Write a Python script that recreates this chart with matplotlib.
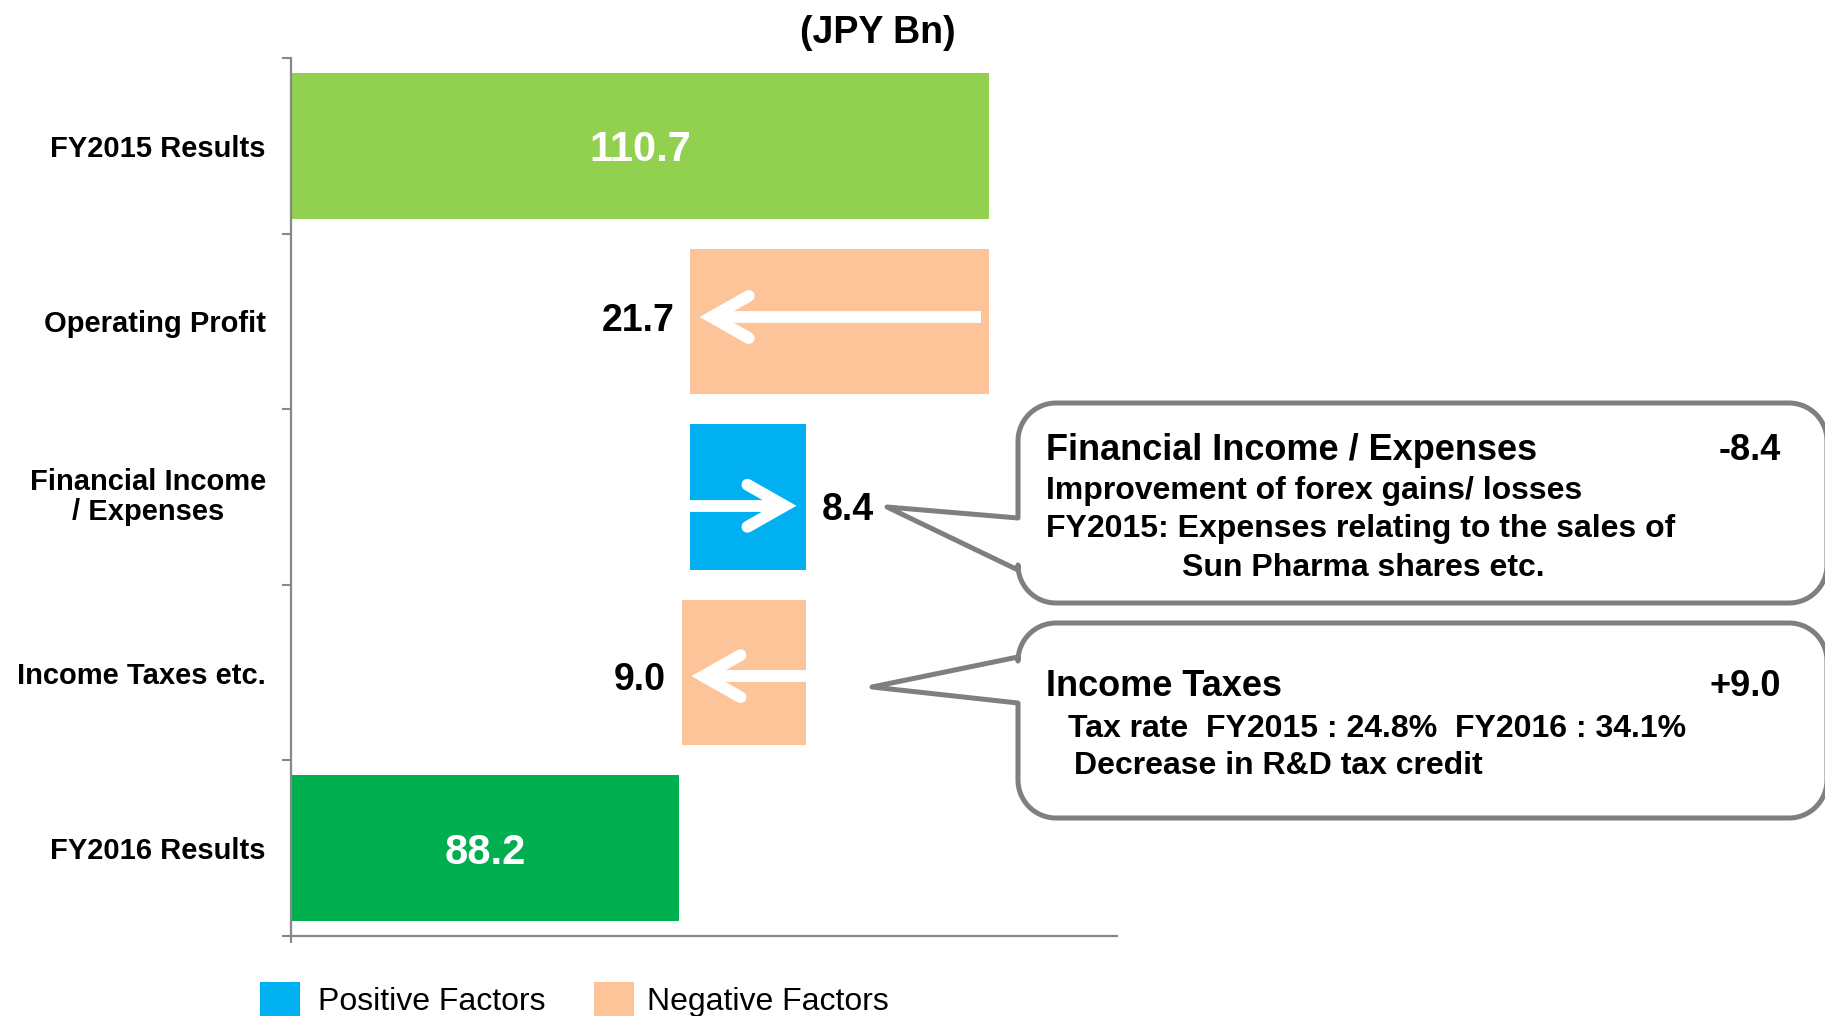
import numpy as np
import matplotlib
matplotlib.use("Agg")
import matplotlib.pyplot as plt
from matplotlib.patches import Rectangle, Polygon

# ---------------- data ----------------
categories = ["FY2015 Results", "Operating Profit", "Financial Income\n/ Expenses",
              "Income Taxes etc.", "FY2016 Results"]
start_value = 110.7
changes = [-21.7, 8.4, -9.0]
end_value = 88.2
x_min, x_max = 60, 120
unit_label = "(JPY Bn)"
legend_labels = ["Positive Factors", "Negative Factors"]

note1_title = "Financial Income / Expenses"
note1_value = "-8.4"
note1_lines = ["Improvement of forex gains/ losses",
               "FY2015: Expenses relating to the sales of",
               "Sun Pharma shares etc."]
note2_title = "Income Taxes"
note2_value = "+9.0"
note2_lines = ["Tax rate  FY2015 : 24.8%  FY2016 : 34.1%",
               "Decrease in R&D tax credit"]

# ---------------- style ----------------
C_START = "#92D050"
C_END = "#00B050"
C_POS = "#00B0F0"
C_NEG = "#FDC399"
C_AXIS = "#888888"
C_BOX = "#7F7F7F"

plt.rcParams['font.family'] = ['Liberation Sans', 'DejaVu Sans']

W, H = 1825, 1016
fig = plt.figure(figsize=(W / 100, H / 100), dpi=100)
fig.patch.set_facecolor("white")


def fx(px):
    return px / W


def fy(py):
    return 1 - py / H


ax = fig.add_axes([fx(291), fy(936), fx(1117) - fx(291), fy(58) - fy(936)])
ax.set_xlim(x_min, x_max)
ax.set_ylim(4.5, -0.5)

BAR_H = 0.83
row_offsets = [-0.025, 0.05, 0.02]   # vertical nudge of arrows/labels

# start bar
ax.barh(0, start_value, height=BAR_H, color=C_START, zorder=2)
ax.text((x_min + start_value) / 2, 0, f"{start_value:.1f}", ha="center",
        va="center_baseline", color="white", fontsize=30, fontweight="bold", zorder=4)

level = start_value
for i, ch in enumerate(changes, start=1):
    new = level + ch
    left = min(level, new)
    right = max(level, new)
    color = C_POS if ch > 0 else C_NEG
    ax.barh(i, abs(ch), left=left, height=BAR_H, color=color, zorder=2)
    yc = i + row_offsets[i - 1]
    dx_arm = 2.7
    dy_arm = 0.12
    inset_tip = 1.55
    if ch < 0:
        far = right - (0.55 if abs(ch) > 15 else 0.0)
        vertex = left + inset_tip
        arm_x = vertex + dx_arm
    else:
        far = left
        vertex = right - inset_tip
        arm_x = vertex - dx_arm
    ax.plot([far, vertex], [yc, yc], color="white", lw=8.5,
            solid_capstyle="butt", zorder=3)
    ax.plot([arm_x, vertex, arm_x], [yc - dy_arm, yc, yc + dy_arm], color="white",
            lw=8.5, solid_joinstyle="miter", solid_capstyle="round", zorder=3)
    if ch < 0:
        ax.annotate(f"{abs(ch):.1f}", xy=(left, yc), xytext=(-11.5, 0),
                    textcoords="offset points", ha="right", va="center_baseline",
                    fontsize=27, fontweight="bold", color="black", zorder=4)
    else:
        ax.annotate(f"{abs(ch):.1f}", xy=(right, yc), xytext=(11.5, 0),
                    textcoords="offset points", ha="left", va="center_baseline",
                    fontsize=27, fontweight="bold", color="black", zorder=4)
    level = new

# end bar
ax.barh(4, end_value, height=BAR_H, color=C_END, zorder=2)
ax.text((x_min + end_value) / 2, 4, f"{end_value:.1f}", ha="center",
        va="center_baseline", color="white", fontsize=30, fontweight="bold", zorder=4)

# axes styling
for s in ["top", "right"]:
    ax.spines[s].set_visible(False)
for s in ["left", "bottom"]:
    ax.spines[s].set_color(C_AXIS)
    ax.spines[s].set_linewidth(1.6)
ax.set_yticks(range(len(categories)))
ax.set_yticklabels(categories, fontsize=21, fontweight="bold")
for lbl in ax.get_yticklabels():
    lbl.set_multialignment("center")
    lbl.set_linespacing(1.12)
    if "\n" in lbl.get_text():
        lbl.set_va("center")
ax.set_yticks(np.arange(-0.5, len(categories)), minor=True)
ax.tick_params(axis="y", which="major", length=0, pad=18)
ax.tick_params(axis="y", which="minor", length=6.5, width=1.5, color=C_AXIS)
ax.set_xticks([x_min])
ax.set_xticklabels([""])
ax.tick_params(axis="x", which="major", length=5, width=1.5, color=C_AXIS)

# unit label
fig.text(fx(877.5), fy(43), unit_label, ha="center", va="baseline",
         fontsize=27, fontweight="bold")


# callouts
def callout(left, top, right, bottom, r, a_top, a_bot, tip):
    pts = []

    def arc(cx, cy, a0, a1):
        t = np.radians(np.linspace(a0, a1, 24))
        return list(zip(cx + r * np.cos(t), cy + r * np.sin(t)))

    pts += arc(left + r, top + r, 180, 270)
    pts += arc(right - r, top + r, 270, 360)
    pts += arc(right - r, bottom - r, 0, 90)
    pts += arc(left + r, bottom - r, 90, 180)
    pts += [(left, a_bot), tip, (left, a_top)]
    verts = [(fx(x), fy(y)) for x, y in pts]
    poly = Polygon(verts, closed=True, transform=fig.transFigure,
                   facecolor="white", edgecolor=C_BOX, lw=3.6,
                   joinstyle="round", zorder=5)
    fig.add_artist(poly)


callout(1018, 403, 1827, 603, 38, 518, 570, (887, 507))
callout(1018, 623, 1827, 818, 38, 657, 703, (872, 687))

TX = 1046
VX = 1781
fig.text(fx(TX), fy(460), note1_title, ha="left", va="baseline", fontsize=26,
         fontweight="bold", zorder=6)
fig.text(fx(VX), fy(460), note1_value, ha="right", va="baseline", fontsize=26,
         fontweight="bold", zorder=6)
for ln, xb, yb in zip(note1_lines, [TX, TX, 1182], [499, 537, 576]):
    fig.text(fx(xb), fy(yb), ln, ha="left", va="baseline", fontsize=23,
             fontweight="bold", zorder=6)

fig.text(fx(TX), fy(696), note2_title, ha="left", va="baseline", fontsize=26,
         fontweight="bold", zorder=6)
fig.text(fx(VX), fy(696), note2_value, ha="right", va="baseline", fontsize=26,
         fontweight="bold", zorder=6)
for ln, xb, yb in zip(note2_lines, [1068, 1074], [737, 774]):
    fig.text(fx(xb), fy(yb), ln, ha="left", va="baseline", fontsize=23,
             fontweight="bold", zorder=6)

# legend
for (sx, tx), lab, col in zip([(260, 318), (594, 647)], legend_labels, [C_POS, C_NEG]):
    fig.add_artist(Rectangle((fx(sx), fy(1022)), fx(40), 40 / H,
                             transform=fig.transFigure, facecolor=col,
                             edgecolor="none"))
    fig.text(fx(tx), fy(1010), lab, ha="left", va="baseline", fontsize=23)

fig.savefig("out.png", dpi=100)
